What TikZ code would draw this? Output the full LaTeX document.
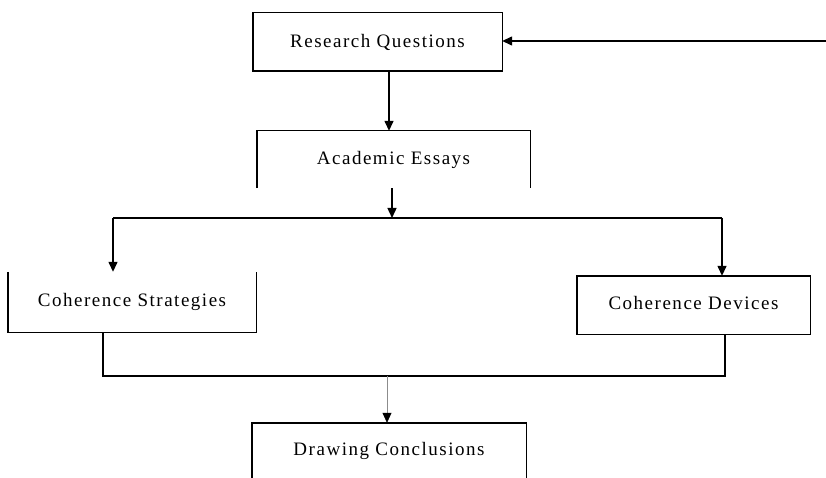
\documentclass[tikz,border=0pt]{standalone}
\usepackage{fontspec}
\setmainfont{Liberation Serif}[LetterSpace=8]
\usetikzlibrary{arrows.meta,calc}
\begin{document}
\begin{tikzpicture}[x=1pt,y=-1pt,
  box/.style={inner sep=0pt, font=\fontsize{19}{22}\selectfont},
  ln/.style={line width=1.4pt, black},
  arr/.style={ln, -{Triangle[length=10pt,width=9pt]}},
  thinarr/.style={line width=0.6pt, black!45, -{Triangle[length=10pt,width=9pt,color=black]}}]
\useasboundingbox (0,0) rectangle (826,478);
% nodes
\node[box, minimum width=249pt, minimum height=58pt] (rq) at (377.5,42) {\raisebox{2pt}{Research Questions}};
\node[box, minimum width=273pt, minimum height=57pt] (ae) at (393.5,159.5) {\raisebox{4pt}{Academic Essays}};
\node[box, minimum width=248pt, minimum height=60pt] (cs) at (132,302) {\raisebox{4pt}{Coherence Strategies}};
\node[box, minimum width=233pt, minimum height=58pt] (cd) at (693.5,305) {\raisebox{4pt}{Coherence Devices}};
\node[box, minimum width=274pt, minimum height=55pt] (dc) at (389,450.5) {\raisebox{3pt}{Drawing Conclusions}};
% outlines
\draw[ln] (rq.south west) rectangle (rq.north east);
\draw[ln] (ae.south west) -- (ae.north west) -- (ae.north east) -- (ae.south east);
\draw[ln] (cs.north west) -- (cs.south west) -- (cs.south east) -- (cs.north east);
\draw[ln] (cd.south west) rectangle (cd.north east);
\draw[ln] (dc.south west) -- (dc.north west) -- (dc.north east) -- (dc.south east);
% coordinates
\coordinate (fb) at (826,41);
\coordinate (split) at (392,218);
\coordinate (sl) at (113,218);
\coordinate (sr) at (722,218);
\coordinate (jl) at (103,376);
\coordinate (jr) at (725,376);
\coordinate (jm) at (387,376);
% connectors
\draw[arr] (fb) -- (fb -| rq.east);
\draw[arr] ([xshift=11.5pt]rq.south) -- ([xshift=11.5pt]rq.south |- ae.north);
\draw[arr] (ae.south -| split) -- (split);
\draw[ln] (sl) -- (sr);
\draw[arr] (sl) -- (sl |- cs.north);
\draw[arr] (sr) -- (sr |- cd.north);
\draw[ln] (cs.south -| jl) -- (jl) -- (jr) -- (cd.south -| jr);
\draw[thinarr] (jm) -- (jm |- dc.north);
\end{tikzpicture}
\end{document}
